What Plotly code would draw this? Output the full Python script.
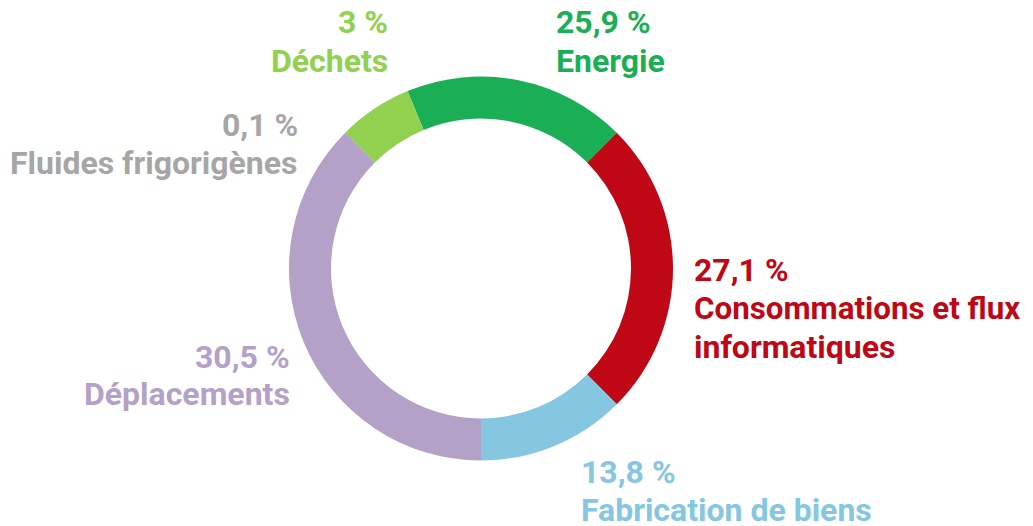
import plotly.graph_objects as go

# Categories in clockwise order starting at the Energie slice
categories = ["Energie", "Consommations et flux informatiques", "Fabrication de biens",
              "Déplacements", "Fluides frigorigènes", "Déchets"]
# Arc size of each ring segment as drawn (degrees of the 360° ring)
arc_degrees = [67.5, 90, 45, 135, 0, 22.5]
# Percentages printed in the labels
label_percent = ["25,9 %", "27,1 %", "13,8 %", "30,5 %", "0,1 %", "3 %"]
label_lines = [["Energie"], ["Consommations et flux", "informatiques"], ["Fabrication de biens"],
               ["Déplacements"], ["Fluides frigorigènes"], ["Déchets"]]
colors = ["#1aaf54", "#c00716", "#85c6e1", "#b3a1c7", "#a6a6a6", "#92d050"]

# The page body has an 8px margin; the figure is sized to fit the window
OFF = 8
W, H = 1033 - OFF, 526 - OFF
cx, cy, R, r_in = 481 - OFF, 268.5 - OFF, 192, 150

fig = go.Figure(go.Pie(
    labels=categories,
    values=arc_degrees,
    sort=False,
    direction="clockwise",
    rotation=-22.5,
    hole=r_in / R,
    marker=dict(colors=colors, line=dict(width=0)),
    textinfo="none",
    hoverinfo="label",
    showlegend=False,
    domain=dict(x=[(cx - R) / W, (cx + R) / W], y=[(H - cy - R) / H, (H - cy + R) / H]),
))

FS = 32
# label layout: (text edge x in window px, anchor side, baselines of each line in window px)
label_layout = [
    (557, "left", [34, 73]),           # Energie
    (695, "left", [282, 321, 359]),    # Consommations
    (582, "left", [484, 522]),         # Fabrication
    (289, "right", [369, 406]),        # Déplacements
    (297, "right", [137, 175]),        # Fluides
    (387, "right", [34, 73]),          # Déchets
]

for i, (ex, side, baselines) in enumerate(label_layout):
    lines = [label_percent[i]] + label_lines[i]
    px = (ex - 3 if side == "left" else ex + 3) - OFF
    for line, base in zip(lines, baselines):
        size = 31.3 if line.startswith("Consommations") else FS
        top = base - 33 - OFF
        fig.add_annotation(
            x=px / W, y=1 - top / H, xref="paper", yref="paper",
            xanchor=side, yanchor="top", align=side,
            text=line, showarrow=False,
            font=dict(family="Roboto", size=size, color=colors[i], weight=700),
        )

fig.update_layout(
    width=W, height=H,
    margin=dict(l=0, r=0, t=0, b=0),
    paper_bgcolor="white", plot_bgcolor="white",
)

fig.write_html("out.html")
